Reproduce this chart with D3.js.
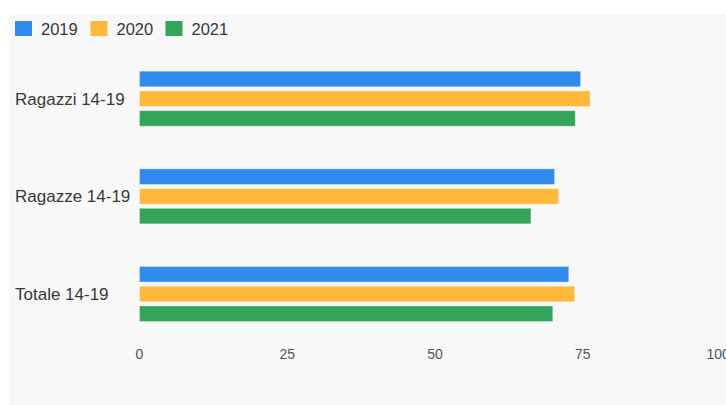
<!DOCTYPE html>
<html>
<head>
<meta charset="utf-8">
<script src="https://cdn.jsdelivr.net/npm/d3@7"></script>
<style>
  html, body { margin: 0; padding: 0; background: #ffffff; }
  svg { display: block; font-family: "Liberation Sans", Arial, sans-serif; }
</style>
</head>
<body>
<svg id="chart" width="726" height="405"></svg>
<script>
// Categories, series and values
const categories = ["Ragazzi 14-19", "Ragazze 14-19", "Totale 14-19"];
const seriesNames = ["2019", "2020", "2021"];
const values2019 = [74.8, 70.4, 72.8];
const values2020 = [76.4, 71.1, 73.8];
const values2021 = [73.9, 66.4, 70.1];
const tickValues = [0, 25, 50, 75, 100];
const colors = ["#318bef", "#ffb93a", "#34a45a"];

const seriesValues = [values2019, values2020, values2021];

const svg = d3.select("#chart");
const W = 726, H = 405;

// panel background
svg.append("rect")
  .attr("x", 9).attr("y", 15)
  .attr("width", W - 9).attr("height", H - 15)
  .attr("fill", "#f8f8f8");

const x = d3.scaleLinear().domain([0, 100]).range([139, 730]);

const y0 = d3.scaleBand()
  .domain(categories)
  .range([49.9, 342.8])
  .paddingInner(0.4264)
  .paddingOuter(0.2132);

const y1 = d3.scaleBand()
  .domain(seriesNames)
  .range([0, y0.bandwidth()])
  .paddingInner(0.16);

const color = d3.scaleOrdinal().domain(seriesNames).range(colors);

// bars
const groups = svg.append("g")
  .selectAll("g")
  .data(categories)
  .join("g")
  .attr("transform", c => `translate(0,${y0(c)})`);

groups.selectAll("rect")
  .data((c, i) => seriesNames.map((s, j) => ({ series: s, value: seriesValues[j][i] })))
  .join("rect")
  .attr("x", x(0) + 0.5)
  .attr("y", d => y1(d.series) + 0.5)
  .attr("width", d => x(d.value) - x(0) - 1)
  .attr("height", y1.bandwidth() - 1)
  .attr("fill", d => color(d.series))
  .attr("stroke", "rgba(255,255,255,0.35)")
  .attr("stroke-width", 1);

// category labels
svg.append("g")
  .selectAll("text")
  .data(categories)
  .join("text")
  .attr("x", 15)
  .attr("y", c => y0(c) + y0.bandwidth() / 2 + 0.5)
  .attr("dominant-baseline", "central")
  .attr("font-size", 17)
  .attr("fill", "#383838")
  .text(c => c);

// x axis
const xAxis = svg.append("g")
  .attr("transform", "translate(0,349)")
  .call(d3.axisBottom(x).tickValues(tickValues).tickSize(0).tickPadding(0));
xAxis.select(".domain").remove();
xAxis.selectAll("text")
  .attr("font-size", 14)
  .attr("font-family", "\"Liberation Sans\", Arial, sans-serif")
  .attr("fill", "#555");
// last label sits against the right edge
xAxis.selectAll(".tick")
  .filter(d => d === 100)
  .select("text")
  .attr("text-anchor", "start")
  .attr("x", 706 - x(100));

// legend
const legend = svg.append("g")
  .selectAll("g")
  .data(seriesNames)
  .join("g")
  .attr("transform", (s, i) => `translate(${[15, 90.5, 165.5][i]},21)`);
legend.append("rect")
  .attr("width", 17).attr("height", 15)
  .attr("fill", s => color(s));
legend.append("text")
  .attr("x", 26)
  .attr("y", 8)
  .attr("dominant-baseline", "central")
  .attr("font-size", 16.5)
  .attr("fill", "#383838")
  .text(s => s);
</script>
</body>
</html>
